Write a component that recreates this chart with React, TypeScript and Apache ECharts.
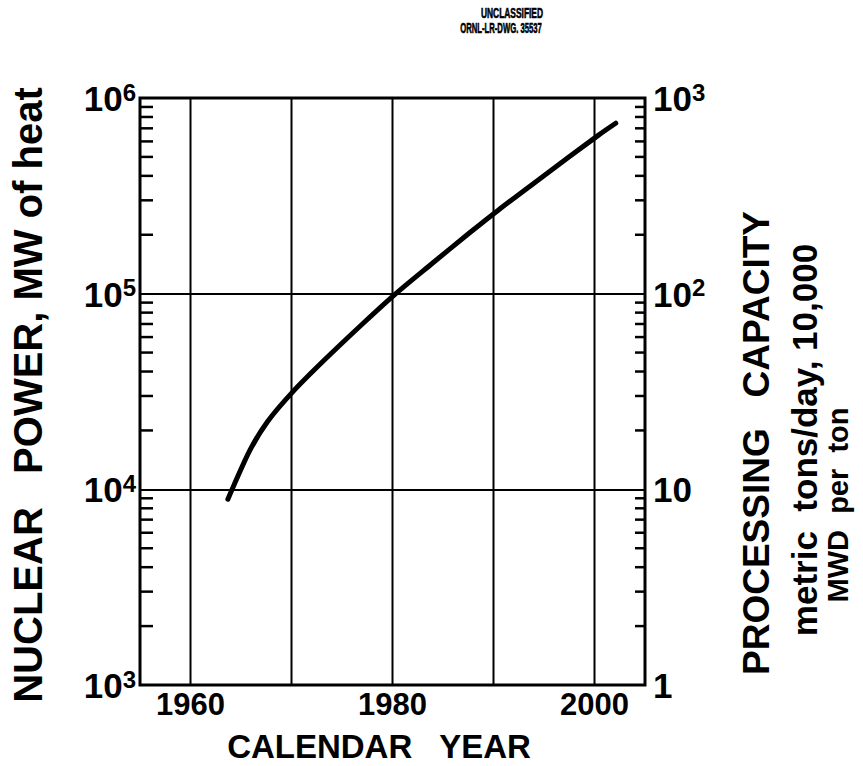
import React, { useEffect, useRef } from "react";
import * as echarts from "echarts";

// Curve: nuclear power (MW of heat) vs calendar year
const years = [1963.7, 1964.3, 1965.9, 1967.6, 1970.1, 1973.2, 1977.1, 1980.3, 1983.8, 1987.7, 1990.5, 1994.4, 2000.4, 2002.1];
const powerMW = [8900, 10500, 15900, 22100, 31400, 45500, 70600, 99800, 141000, 206000, 268000, 380000, 646000, 743000];

// Axes
const xMin = 1955;
const xMax = 2005;
const xLabelYears = [1960, 1980, 2000];
const gridYears = [1960, 1970, 1980, 1990, 2000];
const leftMin = 1000;
const leftMax = 1000000;
const rightMin = 1;
const rightMax = 1000;
const decades = [1000, 10000, 100000];
const minorMultipliers = [2, 3, 4, 5, 6, 7, 8, 9];

const FONT = "'Liberation Sans', Arial, sans-serif";

function supLabel(value: number, plainBelow: number) {
  const e = Math.round(Math.log10(value));
  if (value < plainBelow) return `{b|${value}}`;
  return `{b|10}{s|${e}}`;
}

export default function App() {
  const ref = useRef<HTMLDivElement>(null);
  useEffect(() => {
    if (!ref.current) return;
    const chart = echarts.init(ref.current, undefined, { renderer: "svg" });
    const minorValues: number[] = [];
    decades.forEach((d) => minorMultipliers.forEach((m) => minorValues.push(d * m)));

    const rich = {
      b: { fontFamily: FONT, fontWeight: "bold", fontSize: 35, color: "#000", lineHeight: 36, verticalAlign: "bottom" },
      s: { fontFamily: FONT, fontWeight: "bold", fontSize: 24, color: "#000", lineHeight: 10, verticalAlign: "top" },
    };

    const option: any = {
      animation: false,
      backgroundColor: "#fff",
      grid: { left: 140, top: 98, width: 505, height: 587, show: true, borderColor: "#000", borderWidth: 3, backgroundColor: "transparent" },
      xAxis: {
        type: "value",
        min: xMin,
        max: xMax,
        interval: 5,
        axisLine: { show: false },
        axisTick: { show: false },
        splitLine: { show: false },
        axisLabel: {
          margin: 4,
          color: "#000",
          fontFamily: FONT,
          fontWeight: "bold",
          fontSize: 31,
          formatter: (v: number) => (xLabelYears.includes(v) ? String(v) : ""),
        },
      },
      yAxis: [
        {
          type: "log",
          logBase: 10,
          min: leftMin,
          max: leftMax,
          position: "left",
          axisLine: { show: false },
          axisTick: { show: false },
          minorTick: { show: false },
          splitLine: { show: true, lineStyle: { color: "#000", width: 2 } },
          axisLabel: { margin: 4, formatter: (v: number) => supLabel(v, 0), rich },
        },
        {
          type: "log",
          logBase: 10,
          min: rightMin,
          max: rightMax,
          position: "right",
          axisLine: { show: false },
          axisTick: { show: false },
          splitLine: { show: false },
          axisLabel: { margin: 8, formatter: (v: number) => supLabel(v, 100), rich },
        },
      ],
      series: [
        {
          type: "custom",
          name: "vgrid",
          silent: true,
          clip: false,
          data: gridYears.map((y) => [y, leftMin]),
          encode: { x: 0, y: 1 },
          renderItem: (params: any, api: any) => {
            const yr = api.value(0);
            const p1 = api.coord([yr, leftMin]);
            const p2 = api.coord([yr, leftMax]);
            return { type: "line", shape: { x1: p1[0], y1: p1[1], x2: p2[0], y2: p2[1] }, style: { stroke: "#000", lineWidth: 2 } };
          },
        },
        {
          type: "custom",
          name: "minorTicks",
          silent: true,
          clip: false,
          data: minorValues.map((v) => [xMin, v]),
          encode: { x: 0, y: 1 },
          renderItem: (params: any, api: any) => {
            const v = api.value(1);
            const pl = api.coord([xMin, v]);
            const pr = api.coord([xMax, v]);
            return {
              type: "group",
              children: [
                { type: "line", shape: { x1: pl[0], y1: pl[1], x2: pl[0] + 13, y2: pl[1] }, style: { stroke: "#000", lineWidth: 2.5 } },
                { type: "line", shape: { x1: pr[0] - 10, y1: pr[1], x2: pr[0], y2: pr[1] }, style: { stroke: "#000", lineWidth: 2.5 } },
              ],
            };
          },
        },
        {
          type: "line",
          name: "Nuclear power",
          yAxisIndex: 0,
          data: years.map((y, i) => [y, powerMW[i]]),
          smooth: 0.3,
          showSymbol: false,
          symbol: "none",
          lineStyle: { color: "#000", width: 5, cap: "round" },
        },
      ],
      graphic: [
        { type: "text", x: 512, y: 13, scaleX: 0.6, style: { text: "UNCLASSIFIED", font: `bold 14px ${FONT}`, fill: "#000", stroke: "#000", lineWidth: 0.6, textAlign: "center", textVerticalAlign: "middle" } },
        { type: "text", x: 501, y: 28, scaleX: 0.55, style: { text: "ORNL-LR-DWG. 35537", font: `bold 14px ${FONT}`, fill: "#000", stroke: "#000", lineWidth: 0.6, textAlign: "center", textVerticalAlign: "middle" } },
        { type: "text", x: 379, y: 746, style: { text: "CALENDAR   YEAR", font: `bold 33px ${FONT}`, fill: "#000", textAlign: "center", textVerticalAlign: "middle" } },
        { type: "text", x: 28, y: 395, rotation: Math.PI / 2, style: { text: "NUCLEAR   POWER, MW of heat", font: `bold 40px ${FONT}`, fill: "#000", textAlign: "center", textVerticalAlign: "middle" } },
        { type: "text", x: 756, y: 443, rotation: Math.PI / 2, style: { text: "PROCESSING   CAPACITY", font: `bold 37px ${FONT}`, fill: "#000", textAlign: "center", textVerticalAlign: "middle" } },
        { type: "text", x: 804, y: 440, rotation: Math.PI / 2, style: { text: "metric  tons/day, 10,000", font: `bold 35px ${FONT}`, fill: "#000", textAlign: "center", textVerticalAlign: "middle" } },
        { type: "text", x: 838, y: 505, rotation: Math.PI / 2, style: { text: "MWD  per  ton", font: `bold 29px ${FONT}`, fill: "#000", textAlign: "center", textVerticalAlign: "middle" } },
      ],
    };
    chart.setOption(option);
    return () => chart.dispose();
  }, []);
  return <div ref={ref} style={{ width: 863, height: 766, position: "absolute", left: 0, top: 0 }} />;
}
